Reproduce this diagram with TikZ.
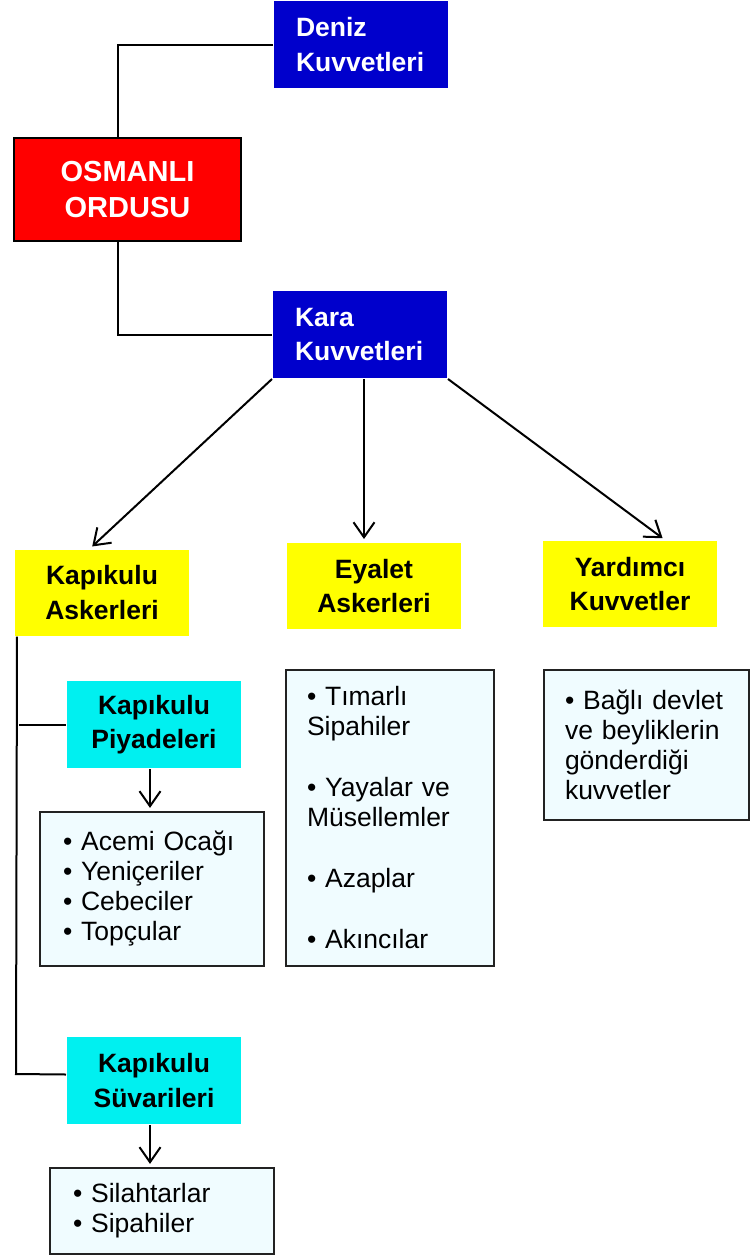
\documentclass[tikz,border=0pt]{standalone}
\usepackage{fontspec}
\setmainfont{Liberation Sans}
\usepackage{xcolor}
\usepackage{tikz}
\usetikzlibrary{arrows, arrows.meta}

\definecolor{kuvvetmavi}{HTML}{0000CC}
\definecolor{kapisari}{HTML}{FFFF00}
\definecolor{piyadecyan}{HTML}{00F0F0}
\definecolor{listezemin}{HTML}{F0FCFF}
\definecolor{listecizgi}{HTML}{222222}

\begin{document}
\begin{tikzpicture}[x=1pt, y=-1pt, line width=2pt]
\tikzstyle{mavi}=[fill=kuvvetmavi, text=white, font=\fontsize{26.5}{34.5}\selectfont\bfseries,
  minimum width=174pt, minimum height=87pt, inner xsep=22pt, text width=130pt, align=left]
\tikzstyle{sari}=[fill=kapisari, font=\fontsize{26.5}{34.5}\selectfont\bfseries,
  minimum width=174pt, minimum height=86pt, align=center]
\tikzstyle{cyan}=[fill=piyadecyan, font=\fontsize{26.5}{34.5}\selectfont\bfseries,
  minimum width=174pt, minimum height=87pt, align=center]
\tikzstyle{liste}=[draw=listecizgi, line width=2.2pt, fill=listezemin,
  font=\fontsize{26.5}{30}\selectfont, inner xsep=23pt, align=left]
\tikzstyle{ok}=[-{Straight Barb[length=15pt, width=21pt]}, shorten >=3pt]
\useasboundingbox (0,0) rectangle (750,1256);

\node[mavi] (deniz) at (361,44.5) {Deniz\\Kuvvetleri};
\node[draw, line width=2.5pt, fill=red, text=white, font=\fontsize{29}{36}\selectfont\bfseries,
  minimum width=227pt, minimum height=103pt, align=center] (osm) at (127.5,189.5) {OSMANLI\\ORDUSU};
\node[mavi] (kara) at (360,334.5) {Kara\\Kuvvetleri};

\node[sari] (kask) at (102,592.5) {Kapıkulu\\Askerleri};
\node[sari] (eya) at (374,586) {Eyalet\\Askerleri};
\node[sari] (yard) at (630,584) {Yardımcı\\Kuvvetler};

\node[cyan] (piy) at (154,724.5) {Kapıkulu\\Piyadeleri};
\node[cyan] (suv) at (154,1080.5) {Kapıkulu\\Süvarileri};

\node[liste, text width=178pt, minimum height=154pt] (piyliste) at (152,889)
  {• Acemi Ocağı\\• Yeniçeriler\\• Cebeciler\\• Topçular};
\node[liste, inner xsep=21pt, text width=166pt, minimum height=296pt] (eyaliste) at (390,818)
  {• Tımarlı\\Sipahiler\\[31pt]• Yayalar ve\\Müsellemler\\[31pt]• Azaplar\\[31pt]• Akıncılar};
\node[liste, inner xsep=21pt, text width=163pt, minimum height=150pt] (yardliste) at (646.5,745)
  {• Bağlı devlet\\ve beyliklerin\\gönderdiği\\kuvvetler};
\node[liste, text width=178pt, minimum height=86pt] (suvliste) at (162,1211)
  {• Silahtarlar\\• Sipahiler};

\coordinate (govde) at (16,1074);
\coordinate (piydal) at (19,724.5);

\draw (deniz.west) -| ([xshift=-9.5pt]osm.north);
\draw ([xshift=-9.5pt]osm.south) |- (kara.west);

\draw[ok] (kara.south west) -- ([xshift=-12pt]kask.north);
\draw[ok] ([xshift=4pt]kara.south) -- ([xshift=4pt]kara.south |- eya.north);
\draw[ok] (kara.south east) -- ([xshift=35pt]yard.north);

\draw ([xshift=3pt]kask.south west) -- (govde) -- ([yshift=6pt]suv.west);
\draw (piydal) -- (piy.west);

\draw[ok] ([xshift=-4pt]piy.south) -- ([xshift=-4pt]piy.south |- piyliste.north);
\draw[ok] ([xshift=-4pt]suv.south) -- ([xshift=-4pt]suv.south |- suvliste.north);

\end{tikzpicture}
\end{document}
